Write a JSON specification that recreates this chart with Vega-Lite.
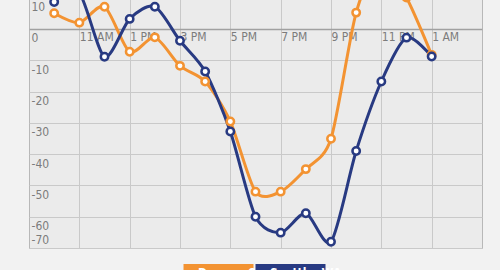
{
  "$schema": "https://vega.github.io/schema/vega-lite/v6.json",
  "width": 453,
  "height": 313,
  "autosize": {"type": "none"},
  "padding": {"top": -65, "left": 29, "right": 18, "bottom": 22},
  "background": "#f2f2f2",
  "config": {
    "view": {"fill": "#ebebeb", "stroke": "#b8b8b8", "strokeWidth": 1},
    "font": "Liberation Sans Narrow, DejaVu Sans Condensed, sans-serif"
  },
  "data": {
    "values": [
      {"time": "2020-01-01T10:00", "city": "Denver, CO", "temp": 5.0},
      {"time": "2020-01-01T11:00", "city": "Denver, CO", "temp": 2.0},
      {"time": "2020-01-01T12:00", "city": "Denver, CO", "temp": 7.1},
      {"time": "2020-01-01T13:00", "city": "Denver, CO", "temp": -7.3},
      {"time": "2020-01-01T14:00", "city": "Denver, CO", "temp": -2.7},
      {"time": "2020-01-01T15:00", "city": "Denver, CO", "temp": -11.8},
      {"time": "2020-01-01T16:00", "city": "Denver, CO", "temp": -16.8},
      {"time": "2020-01-01T17:00", "city": "Denver, CO", "temp": -29.6},
      {"time": "2020-01-01T18:00", "city": "Denver, CO", "temp": -52.0},
      {"time": "2020-01-01T19:00", "city": "Denver, CO", "temp": -52.0},
      {"time": "2020-01-01T20:00", "city": "Denver, CO", "temp": -44.8},
      {"time": "2020-01-01T21:00", "city": "Denver, CO", "temp": -35.1},
      {"time": "2020-01-01T22:00", "city": "Denver, CO", "temp": 5.2},
      {"time": "2020-01-01T23:00", "city": "Denver, CO", "temp": 22.0},
      {"time": "2020-01-02T00:00", "city": "Denver, CO", "temp": 10.0},
      {"time": "2020-01-02T01:00", "city": "Denver, CO", "temp": -8.3},
      {"time": "2020-01-01T10:00", "city": "Seattle, WA", "temp": 8.6},
      {"time": "2020-01-01T11:00", "city": "Seattle, WA", "temp": 11.5},
      {"time": "2020-01-01T12:00", "city": "Seattle, WA", "temp": -8.9},
      {"time": "2020-01-01T13:00", "city": "Seattle, WA", "temp": 3.2},
      {"time": "2020-01-01T14:00", "city": "Seattle, WA", "temp": 7.1},
      {"time": "2020-01-01T15:00", "city": "Seattle, WA", "temp": -3.8},
      {"time": "2020-01-01T16:00", "city": "Seattle, WA", "temp": -13.6},
      {"time": "2020-01-01T17:00", "city": "Seattle, WA", "temp": -32.8},
      {"time": "2020-01-01T18:00", "city": "Seattle, WA", "temp": -60.0},
      {"time": "2020-01-01T19:00", "city": "Seattle, WA", "temp": -65.1},
      {"time": "2020-01-01T20:00", "city": "Seattle, WA", "temp": -58.9},
      {"time": "2020-01-01T21:00", "city": "Seattle, WA", "temp": -68.0},
      {"time": "2020-01-01T22:00", "city": "Seattle, WA", "temp": -39.0},
      {"time": "2020-01-01T23:00", "city": "Seattle, WA", "temp": -16.8},
      {"time": "2020-01-02T00:00", "city": "Seattle, WA", "temp": -2.8},
      {"time": "2020-01-02T01:00", "city": "Seattle, WA", "temp": -8.8}
    ]
  },
  "mark": {
    "type": "line",
    "interpolate": "cardinal",
    "tension": 0.2,
    "strokeWidth": 3,
    "point": {"filled": false, "fill": "white", "size": 55, "strokeWidth": 2.5, "opacity": 1}
  },
  "encoding": {
    "x": {
      "field": "time",
      "type": "temporal",
      "scale": {
        "domain": [
          {"year": 2020, "month": 1, "date": 1, "hours": 9},
          {"year": 2020, "month": 1, "date": 2, "hours": 3}
        ]
      },
      "axis": {
        "title": null,
        "orient": "bottom",
        "offset": -219,
        "values": [
          {"year": 2020, "month": 1, "date": 1, "hours": 11},
          {"year": 2020, "month": 1, "date": 1, "hours": 13},
          {"year": 2020, "month": 1, "date": 1, "hours": 15},
          {"year": 2020, "month": 1, "date": 1, "hours": 17},
          {"year": 2020, "month": 1, "date": 1, "hours": 19},
          {"year": 2020, "month": 1, "date": 1, "hours": 21},
          {"year": 2020, "month": 1, "date": 1, "hours": 23},
          {"year": 2020, "month": 1, "date": 2, "hours": 1}
        ],
        "format": "%-I %p",
        "grid": true,
        "gridColor": "#c9c9c9",
        "gridWidth": 1,
        "ticks": false,
        "tickSize": 0,
        "domainColor": "#a0a0a0",
        "domainWidth": 1.5,
        "labelAlign": "left",
        "labelBaseline": "top",
        "labelPadding": 2,
        "labelDx": 2,
        "labelColor": "#7c7c7c",
        "labelFontSize": 12,
        "labelFlush": false,
        "labelOverlap": false
      }
    },
    "y": {
      "field": "temp",
      "type": "quantitative",
      "scale": {"domain": [-70, 30], "nice": false, "zero": false},
      "axis": {
        "title": null,
        "values": [30, 20, 10, 0, -10, -20, -30, -40, -50, -60, -70],
        "labelExpr": "'' + datum.value",
        "grid": true,
        "gridColor": "#c9c9c9",
        "gridWidth": 1,
        "domain": false,
        "ticks": false,
        "tickSize": 0,
        "labelAlign": "left",
        "labelBaseline": {"condition": {"test": "datum.value == -70", "value": "bottom"}, "value": "top"},
        "labelOffset": {"condition": {"test": "datum.value == -70", "value": -2}, "value": 4},
        "labelPadding": -2,
        "labelFlush": false,
        "labelColor": "#7c7c7c",
        "labelFontSize": 12,
        "labelOverlap": false
      }
    },
    "color": {
      "field": "city",
      "type": "nominal",
      "scale": {"domain": ["Denver, CO", "Seattle, WA"], "range": ["#f39332", "#283a82"]},
      "legend": {
        "title": null,
        "orient": "none",
        "legendX": 146,
        "legendY": 294,
        "direction": "horizontal",
        "gridAlign": "none",
        "symbolType": "stroke",
        "symbolSize": 4900,
        "symbolStrokeWidth": 17,
        "symbolOpacity": 1,
        "labelColor": "white",
        "labelFontSize": 12,
        "labelFontWeight": "bold",
        "labelOffset": -64,
        "columnPadding": -67
      }
    }
  }
}
